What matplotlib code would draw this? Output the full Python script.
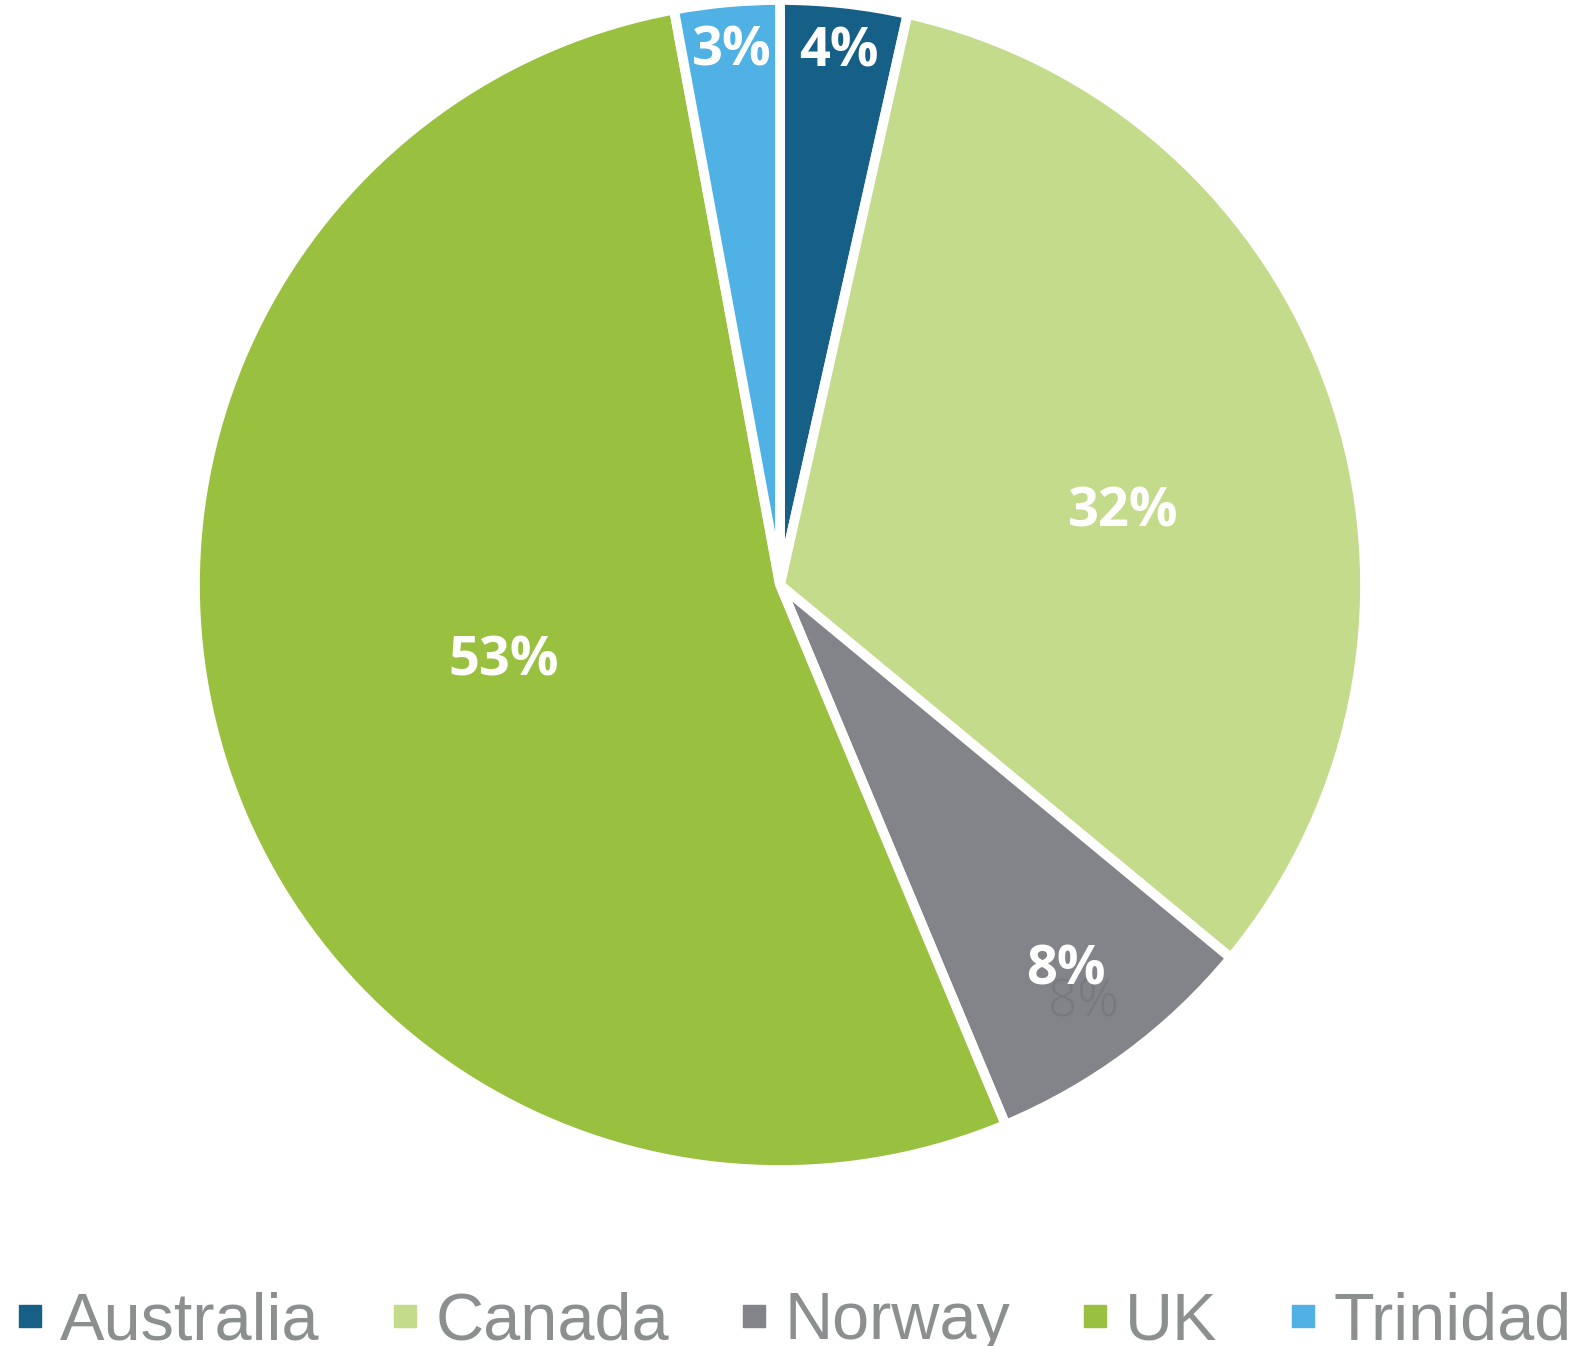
import numpy as np
import matplotlib.pyplot as plt
from matplotlib.lines import Line2D

# datos (porcentaje por pais)
paises = ["Australia", "Canada", "Norway", "UK", "Trinidad"]
valores = [3.5, 32.5, 7.7, 53.4, 2.9]
etiquetas = ["4%", "32%", "8%", "53%", "3%"]
colores = ["#165f87", "#c3db8b", "#828489", "#99c13f", "#4fb1e4"]
dist_etiqueta = [0.915, 0.60, 0.82, 0.49, 0.915]
giro_etiqueta = [0, 7, 0, 1, 0]

W, H = 1582, 1346
fig = plt.figure(figsize=(W / 100, H / 100), dpi=100)
cx, cy, r = 780, 585, 585
ax = fig.add_axes([(cx - r) / W, (H - cy - r) / H, 2 * r / W, 2 * r / H])

wedges, _ = ax.pie(valores, colors=colores, startangle=90, counterclock=False,
                   radius=1, wedgeprops=dict(edgecolor="white", linewidth=7))
ax.set_xlim(-1, 1)
ax.set_ylim(-1, 1)
ax.set_aspect("equal")
ax.axis("off")

for w, txt, d, g in zip(wedges, etiquetas, dist_etiqueta, giro_etiqueta):
    ang = np.deg2rad((w.theta1 + w.theta2) / 2 - g)
    x, y = d * np.cos(ang), d * np.sin(ang)
    if txt == "8%":
        # rastro de etiqueta vieja que se ve debajo
        ax.text(x + 0.03, y - 0.055, txt, color="#76797d", fontsize=37,
                family="Open Sans", fontweight="light", ha="center", va="center")
    ax.text(x, y, txt, color="white", fontsize=39, fontweight="bold",
            family="Open Sans", ha="center", va="center")

handles = [Line2D([], [], marker="s", linestyle="none", markersize=16, color=c)
           for c in colores]
fig.legend(handles, paises, loc="lower center", bbox_to_anchor=(0.502, -0.05),
           ncol=5, frameon=False, labelcolor="#8c8f90",
           prop=dict(family="Liberation Sans", size=48),
           handlelength=0.4, handletextpad=0.25, columnspacing=1.08)

fig.savefig("out.png", dpi=100)
